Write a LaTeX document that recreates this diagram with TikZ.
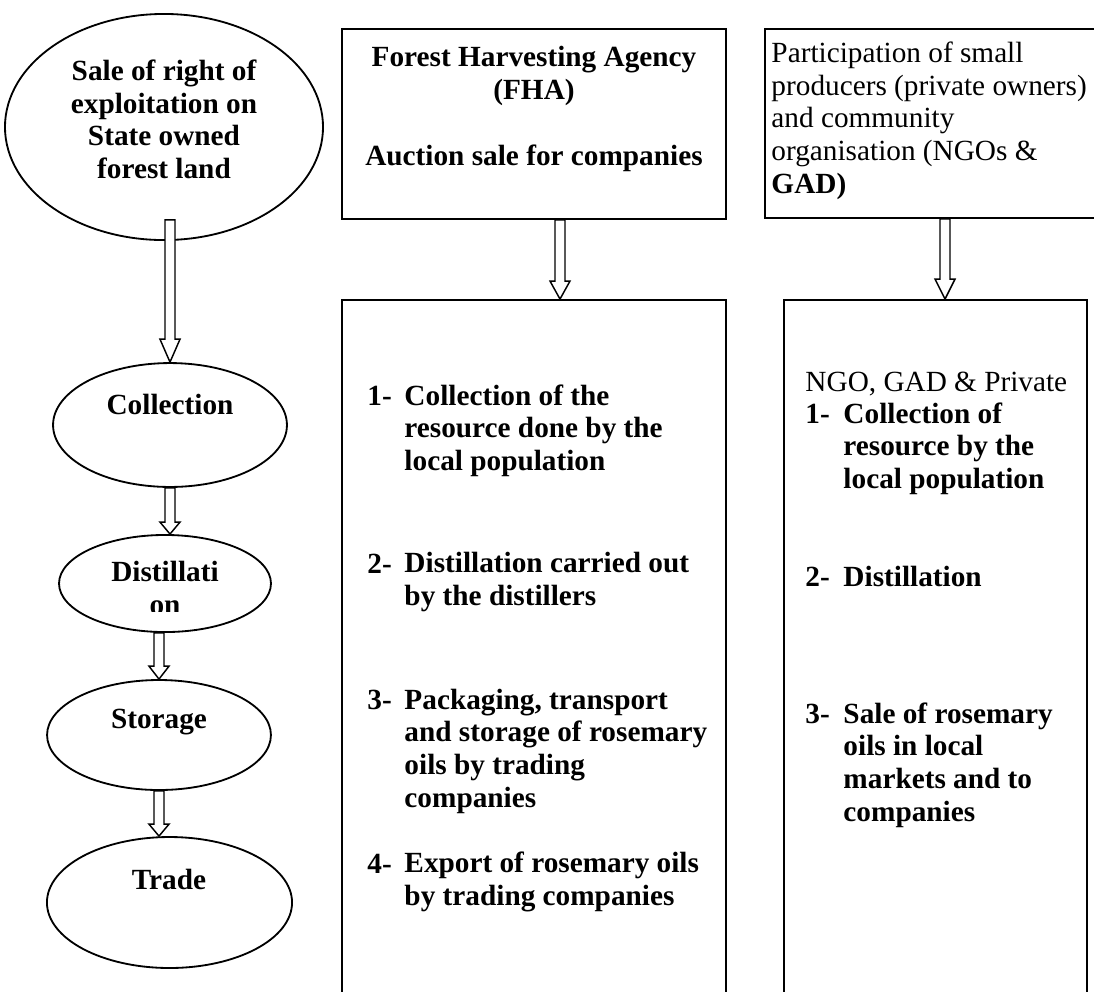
\documentclass[tikz,border=0pt]{standalone}
\usepackage{fontspec}
\setmainfont{Liberation Serif}
\usetikzlibrary{shapes.geometric,calc}

\tikzset{
  stage/.style={draw, ellipse, line width=0.75pt, inner sep=0pt},
  panel/.style={draw, rectangle, line width=0.75pt, inner sep=0pt},
  blockarrow/.style={draw, fill=white, line width=0.6pt},
  txt/.style={inner sep=0pt, font=\fontsize{12}{13.5}\selectfont\bfseries, align=left},
  normaltext/.style={inner sep=0pt, font=\fontsize{12}{13.5}\selectfont, align=left}
}

\newcommand{\hollowarrow}[3]{%
  \draw[blockarrow] let \p1=(#1), \p2=(#2) in
    (\x2-2.05pt,\y1) -- (\x2-2.05pt,\y2+#3) -- (\x2-4.1pt,\y2+#3) -- (\x2,\y2)
    -- (\x2+4.1pt,\y2+#3) -- (\x2+2.05pt,\y2+#3) -- (\x2+2.05pt,\y1) -- cycle;
}

\begin{document}
\begin{tikzpicture}[x=0.41pt, y=-0.41pt]
      \useasboundingbox (0,0) rectangle (1094,991);
      \clip (0,0) rectangle (1094,991);

      \node[stage, minimum width=130.4pt, minimum height=92.7pt] (sale) at (164,127) {};
      \node[stage, minimum width=95.9pt, minimum height=50.8pt] (collection) at (170,425) {};
      \node[stage, minimum width=86.9pt, minimum height=39.8pt] (distill) at (165,583.5) {};
      \node[stage, minimum width=91.8pt, minimum height=45.1pt] (storage) at (159,735) {};
      \node[stage, minimum width=100.5pt, minimum height=53.7pt] (trade) at (169.5,902.5) {};

      \node[txt, align=center, anchor=north] (sale-text) at (164,59)
        {Sale of right of\\exploitation on\\State owned\\forest land};
      \node[txt, anchor=base] (collection-text) at (170,414) {Collection};
      \begin{scope}
        \clip (100,540) rectangle (230,611);
        \node[txt, align=center, anchor=north] (distill-text) at (165,561) {Distillati\\on};
      \end{scope}
      \node[txt, anchor=base] (storage-text) at (159,728) {Storage};
      \node[txt, anchor=base] (trade-text) at (169,889) {Trade};

      \node[panel, minimum width=157.4pt, minimum height=77.9pt] (fha) at (534,124) {};
      \node[panel, minimum width=157.4pt, minimum height=291.1pt] (fhasteps) at (534,655) {};
      \node[panel, minimum width=149.7pt, minimum height=77.5pt] (ngo) at (947.5,123.5) {};
      \node[panel, minimum width=124.2pt, minimum height=291.1pt] (ngosteps) at (935.5,655) {};

      \node[txt, align=center, anchor=north] (fha-text) at (534,46)
        {Forest Harvesting Agency\\(FHA)\\[13.5pt]Auction sale for companies};
      \node[normaltext, anchor=north west] (ngo-text) at (771,41)
        {Participation of small\\producers (private owners)\\and community\\organisation (NGOs \&\\\textbf{GAD)}};

      \node[txt, anchor=base west] (fha-n1) at (367,405) {1-};
      \node[txt, anchor=base west] (fha-s1) at (404,470.9) {Collection of the\\resource done by the\\local population};
      \node[txt, anchor=base west] (fha-n2) at (367,573) {2-};
      \node[txt, anchor=base west] (fha-s2) at (404,605.9) {Distillation carried out\\by the distillers};
      \node[txt, anchor=base west] (fha-n3) at (367,709) {3-};
      \node[txt, anchor=base west] (fha-s3) at (404,807.8) {Packaging, transport\\and storage of rosemary\\oils by trading\\companies};
      \node[txt, anchor=base west] (fha-n4) at (367,873) {4-};
      \node[txt, anchor=base west] (fha-s4) at (404,905.9) {Export of rosemary oils\\by trading companies};

      \node[normaltext, anchor=base west] (ngo-head) at (805,391) {NGO, GAD \& Private};
      \node[txt, anchor=base west] (ngo-n1) at (805,423) {1-};
      \node[txt, anchor=base west] (ngo-s1) at (843,488.9) {Collection of\\resource by the\\local population};
      \node[txt, anchor=base west] (ngo-n2) at (805,586) {2-};
      \node[txt, anchor=base west] (ngo-s2) at (843,586) {Distillation};
      \node[txt, anchor=base west] (ngo-n3) at (805,723) {3-};
      \node[txt, anchor=base west] (ngo-s3) at (843,821.8) {Sale of rosemary\\oils in local\\markets and to\\companies};

      \hollowarrow{$(sale.south)+(0,-21)$}{collection.north}{9.4pt}
      \hollowarrow{collection.south}{collection.south |- distill.north}{4.9pt}
      \hollowarrow{distill.south}{storage.north}{5.3pt}
      \hollowarrow{storage.south}{storage.south |- trade.north}{4.9pt}
      \hollowarrow{fha.south}{$(fhasteps.north)+(26,0)$}{7.4pt}
      \hollowarrow{ngo.south}{$(ngosteps.north)+(9.5,0)$}{8.2pt}
    \end{tikzpicture}
\end{document}
